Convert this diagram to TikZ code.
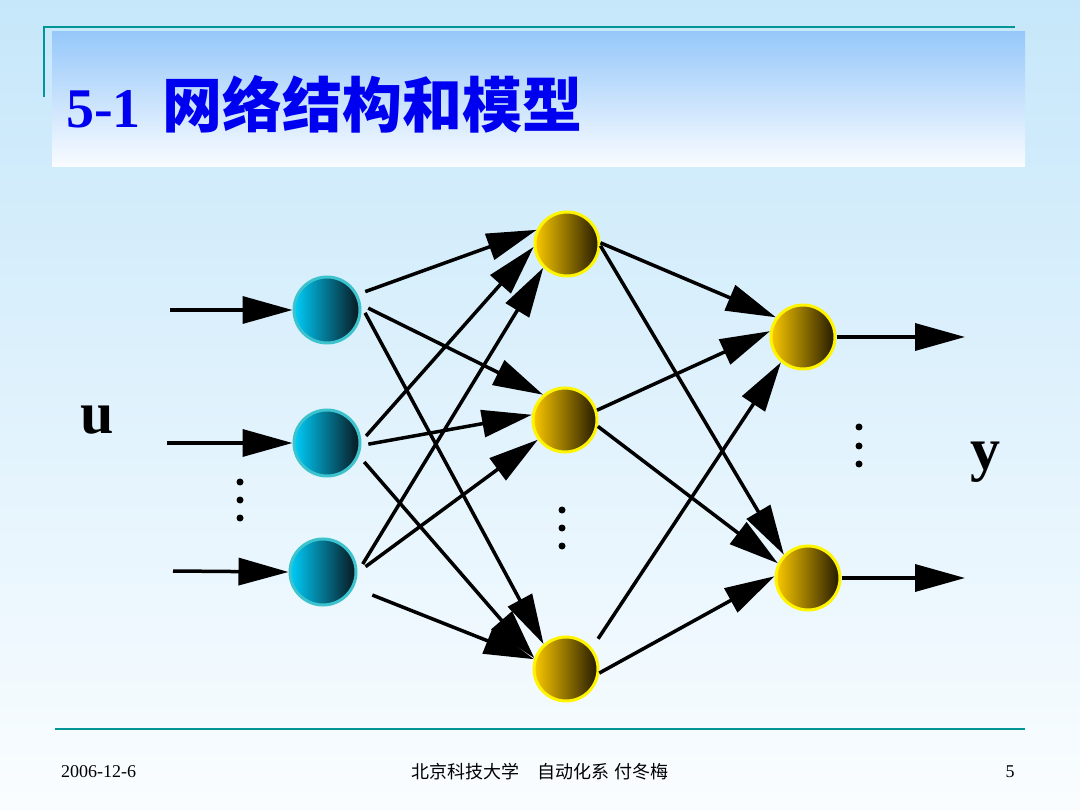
\documentclass[tikz,border=0pt]{standalone}
\usepackage{fontspec}
\setmainfont{Liberation Serif}
\newfontfamily\cjk{Noto Sans CJK SC}
\usetikzlibrary{arrows.meta,shadings}
\definecolor{bgtop}{RGB}{198,231,250}
\definecolor{bgbot}{RGB}{250,253,255}
\definecolor{titletop}{RGB}{150,200,250}
\definecolor{titlebot}{RGB}{250,252,255}
\definecolor{tealline}{RGB}{0,150,150}
\definecolor{titleblue}{RGB}{0,0,240}
\definecolor{cyanL}{RGB}{0,205,250}
\definecolor{cyanM}{RGB}{0,140,180}
\definecolor{cyanR}{RGB}{8,22,30}
\definecolor{cyanB}{RGB}{60,195,205}
\definecolor{goldL}{RGB}{250,200,0}
\definecolor{goldM}{RGB}{195,145,0}
\definecolor{goldR}{RGB}{35,25,0}
\definecolor{goldB}{RGB}{255,245,0}
\begin{document}
\begin{tikzpicture}[x=1pt,y=-1pt,
  inp/.style={circle,minimum size=66pt,inner sep=0pt,line width=3pt,draw=cyanB,left color=cyanL,middle color=cyanM,right color=cyanR},
  hid/.style={circle,minimum size=64pt,inner sep=0pt,line width=3pt,draw=goldB,left color=goldL,middle color=goldM,right color=goldR},
  conn/.style={line width=3.5pt,-{Triangle[length=50pt,width=27pt]}},
  gap/.style={shorten <=#1},
  dotm/.style={circle,fill=black,inner sep=0pt,minimum size=7pt},
  rule/.style={draw=tealline,line width=2.5pt},
]
\fill[top color=bgtop,bottom color=bgbot] (0,0) rectangle (1080,810);
\useasboundingbox (0,0) rectangle (1080,810);
% title area
\fill[top color=titletop,bottom color=titlebot] (52,32) rectangle (1025,167);
\draw[rule] (44,97) -- (44,27) -- (1015,27);
\node[anchor=base west,text=titleblue,inner sep=0pt] (title) at (66,128)
  {\fontsize{56}{60}\selectfont\bfseries 5-1\hspace{22pt}\cjk\fontsize{60}{60}\selectfont\bfseries 网络结构和模型};
% footer
\draw[rule] (55,729) -- (1025,729);
\node[anchor=west,inner sep=0pt,font=\fontsize{18}{18}\selectfont] (date) at (61,772) {2006-12-6};
\node[inner sep=0pt,font=\cjk\fontsize{18}{18}\selectfont] (org) at (540,772) {北京科技大学\quad 自动化系 付冬梅};
\node[inner sep=0pt,font=\fontsize{18}{18}\selectfont] (page) at (1010,772) {5};
% neurons
\node[inp] (I1) at (327,310) {};
\node[inp] (I2) at (327,443) {};
\node[inp] (I3) at (323,572) {};
\node[hid] (H1) at (567,244) {};
\node[hid] (H2) at (565,420) {};
\node[hid] (H3) at (566,669) {};
\node[hid] (O1) at (803,337) {};
\node[hid] (O2) at (808,578) {};
% labels
\node[font=\bfseries\fontsize{60}{60}\selectfont] (u) at (97,420) {u};
\node[font=\bfseries\fontsize{60}{60}\selectfont] (y) at (985,462) {y};
% dots
\foreach \yy in {482,500,518} \node[dotm] at (240,\yy) {};
\foreach \yy in {510,528,546} \node[dotm] at (562,\yy) {};
\foreach \yy in {427,446,464} \node[dotm] at (859,\yy) {};
% inputs / outputs
\coordinate (u1) at (170,310);
\coordinate (u2) at (167,443);
\coordinate (u3) at (173,571);
\coordinate (y1) at (965,337);
\coordinate (y2) at (965,578);
\draw[conn] (u1) -- (I1.west);
\draw[conn] (u2) -- (I2.west);
\draw[conn] (u3) -- (I3.west);
\draw[conn] (O1.east) -- (y1);
\draw[conn] (O2.east) -- (y2);
% input -> hidden
\draw[conn,gap=8pt] (I1.27) -- (H1.155);
\draw[conn,gap=8pt] (I1.9) -- (H2.131);
\draw[conn,gap=8pt] (I1.7) -- (H3.132);
\draw[conn,gap=7pt] (I2.3) -- (H1.185);
\draw[conn,gap=7pt] (I2.-4) -- (H2.171);
\draw[conn,gap=8pt] (I2.-22) -- (H3.161);
\draw[conn,gap=10pt] (I3.-1) -- (H1.225);
\draw[conn,gap=10pt] (I3.-1) -- (H2.216);
\draw[conn,gap=20pt] (I3.-27) -- (H3.163);
% hidden -> output
\draw[conn] (H1.2) -- (O1.144);
\draw[conn] (H1.-3) -- (O2.136);
\draw[conn] (H2.17) -- (O1.170);
\draw[conn] (H2.-11) -- (O2.154);
\draw[conn,gap=11pt] (H3.39) -- (O1.229);
\draw[conn] (H3.-7) -- (O2.177);
\end{tikzpicture}
\end{document}
